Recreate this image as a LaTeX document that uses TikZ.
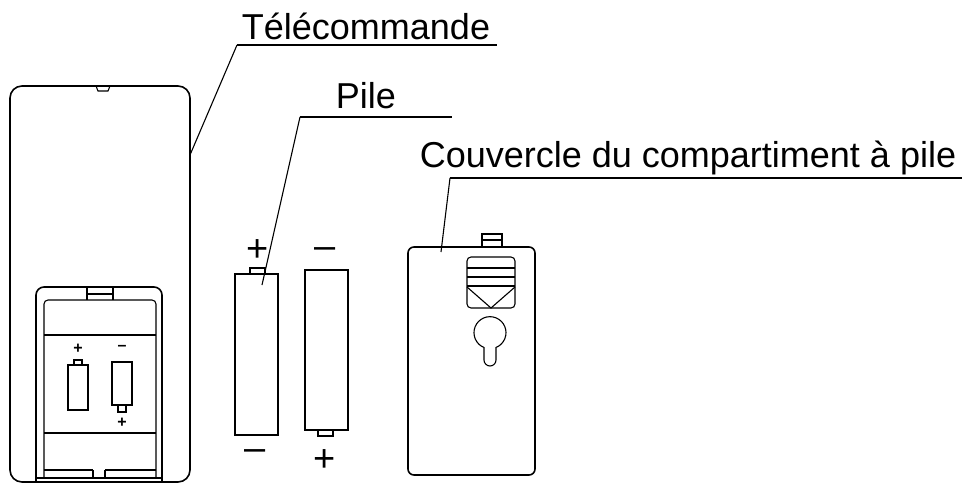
\documentclass[tikz,border=0pt]{standalone}
\usepackage{fontspec}
\setmainfont{Liberation Sans}
\begin{document}
\begin{tikzpicture}[x=1pt,y=-1pt,line width=1.6pt,
 lbl/.style={font=\fontsize{36}{40}\selectfont,inner sep=0pt},
 sym/.style={font=\fontsize{38}{38}\selectfont,inner sep=0pt},
 thin/.style={line width=1.1pt}]
\useasboundingbox (0,0) rectangle (978,490);
% remote
\draw[rounded corners=12] (10,86) rectangle (190,482);
\draw[thin] (96,86) -- (98,91) -- (108,91) -- (110,86);
\draw[rounded corners=8] (36,482) -- (36,287) -- (162,287) -- (162,482);
\draw[thin,rounded corners=4] (44,478) -- (44,300) -- (156,300) -- (156,478);
\draw[thin] (87,287) -- (87,300) (113,287) -- (113,300) (87,294)--(113,294);
\draw[thin] (44,335) -- (156,335) (44,433) -- (156,433);
\draw[thin] (36,478) -- (162,478) (44,470)--(93,470) (105,470)--(156,470) (93,470)--(93,478) (105,470)--(105,478);
\draw[thin] (68,365) rectangle (88,410) (74,365)--(74,360)--(82,360)--(82,365);
\draw[thin] (112,362) rectangle (132,405) (118,405)--(118,412)--(126,412)--(126,405);
\node[font=\fontsize{16}{16}\selectfont\bfseries,inner sep=0pt] (p1) at (78,349) {+};
\node[font=\fontsize{16}{16}\selectfont\bfseries,inner sep=0pt] (m1) at (122,348) {--};
\node[font=\fontsize{16}{16}\selectfont\bfseries,inner sep=0pt] (p2) at (122,423) {+};
% batteries
\draw (235,274) rectangle (278,435);
\draw (250,274) -- (250,268) -- (265,268) -- (265,274);
\draw (305,270) rectangle (348,430);
\draw (318,430) -- (318,436) -- (333,436) -- (333,430);
\node[sym] (bp1) at (258,251) {+};
\node[sym] (bm1) at (325,253) {--};
\node[sym] (bm2) at (255,455) {--};
\node[sym] (bp2) at (325,461) {+};
% cover
\draw[rounded corners=6] (408,247) rectangle (535,475);
\draw[thin] (482,247) -- (482,234) -- (502,234) -- (502,247) (482,240)--(502,240);
\draw[thin,rounded corners=4] (467,257) rectangle (515,308);
\draw (467,268)--(515,268) (467,277)--(515,277) (467,286)--(515,286);
\draw[thin] (467,287) -- (491,308) -- (515,287);
\draw[thin] (484,360) -- (484,347.5) arc[start angle=112,end angle=428,radius=16] -- (496,360) arc[start angle=0,end angle=180,radius=6];
% labels
\node[lbl] (t1) at (366,26) {Télécommande};
\node[lbl] (t2) at (366,96) {Pile};
\node[lbl] (t3) at (688,158) {Couvercle du compartiment à pile};
\coordinate (a1) at (237,45); \coordinate (a2) at (300,117); \coordinate (a3) at (450,178);
\draw[thin] (a1) -- (497,45); \draw[thin] (a1) -- (190,155);
\draw[thin] (a2) -- (452,117); \draw[thin] (a2) -- (262,285);
\draw[thin] (a3) -- (962,178); \draw[thin] (a3) -- (441,252);
\end{tikzpicture}
\end{document}
